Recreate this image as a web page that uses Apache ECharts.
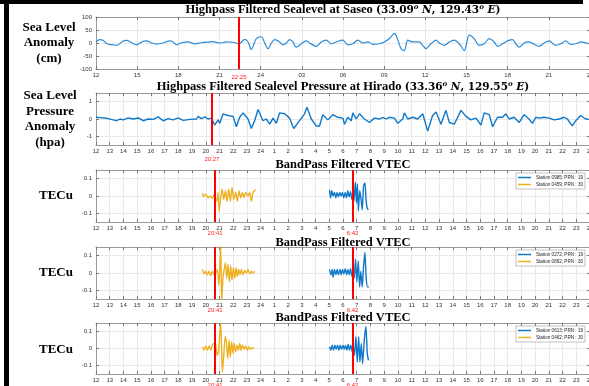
<!DOCTYPE html>
<html>
<head>
<meta charset="utf-8">
<script src="https://cdn.jsdelivr.net/npm/echarts@6/dist/echarts.min.js"></script>
<style>
html, body { margin: 0; padding: 0; background: #fff; }
#main { width: 589px; height: 386px; }
</style>
</head>
<body>
<div id="main"></div>
<script>
// all times are hours counted from 12:00 of the first day
var seaHours = [0,0.29,0.53,0.78,1.26,1.5,1.99,2.23,2.59,2.96,3.32,3.68,4.05,4.41,4.9,5.38,5.62,5.87,6.23,6.72,
	7.2,7.68,8.05,8.53,9.02,9.5,9.99,10.42,10.84,11.08,11.32,11.68,12.05,12.29,12.53,12.78,13.02,13.38,13.62,13.87,
	14.11,14.35,14.59,14.96,15.32,15.56,16.05,16.41,16.78,17.14,17.5,17.99,18.35,18.72,19.08,19.44,19.81,20.17,20.66,21.02,
	21.38,21.75,21.99,22.23,22.47,22.72,23.08,23.56,23.81,24.05,24.41,24.78,25.02,25.38,25.75,26.11,26.47,26.84,27.2,27.56,
	27.93,28.29,28.66,29.02,29.26,29.63,29.99,30.35,30.6,30.84,31.2,31.56,31.93,32.29,32.65,33.02,33.5,33.87,34.23,34.59,
	34.96,35.32,35.86];
var seaCm = [4,13,10,-3,-7,-9,8,10,1,-7,4,8,0,-4,0,8,4,-7,1,4,
	-3,1,3,5,0,4,3,-3,14,4,-25,17,24,0,-22,0,13,4,-7,0,
	13,4,-16,-3,8,0,-13,4,11,-3,4,11,-7,-3,11,0,4,-5,-3,4,
	17,37,13,-22,-29,11,4,4,-9,-22,-3,11,0,-9,4,11,-3,-29,30,17,
	-9,-3,17,4,-13,-3,8,13,-3,-16,0,4,-5,-13,0,8,-9,-3,8,-5,
	-3,4,-3];

var presHours = [0,0.29,0.78,1.26,1.5,1.75,1.99,2.35,2.72,3.08,3.44,3.81,4.17,4.53,4.9,5.26,5.62,5.99,6.35,6.84,
	7.32,7.44,7.68,7.93,8.17,8.41,8.65,8.9,9.02,9.26,9.62,9.99,10.23,10.47,10.72,11.08,11.32,11.56,11.81,12.17,
	12.41,12.66,12.9,13.14,13.38,13.75,14.11,14.41,14.78,15.2,15.37,15.69,16.05,16.29,16.53,16.9,17.26,17.62,17.99,18.11,
	18.35,18.6,18.72,18.96,19.2,19.56,19.93,20.29,20.66,20.9,21.14,21.38,21.75,21.99,22.35,22.47,22.72,23.08,23.44,23.81,
	24.17,24.53,24.78,25.14,25.5,25.75,26.11,26.6,26.96,27.32,27.69,28.05,28.29,28.66,28.9,29.26,29.63,29.87,30.11,30.47,
	30.84,31.2,31.56,31.81,32.05,32.29,32.65,33.02,33.38,33.75,34.11,34.35,34.71,34.96,35.32,35.68,35.86];
var presHpa = [0.1,0.08,0.04,-0.05,-0.1,0,-0.05,0.06,0,0.06,-0.1,0,-0.02,0.12,-0.1,0.02,-0.05,0.06,-0.08,-0.02,
	0,0.15,0.02,0.12,0,0.05,-0.35,-0.05,-0.25,0.3,0.2,0.15,-0.45,0.1,0.35,0,-0.55,-0.1,0.55,-0.1,
	0,-0.3,0.05,-0.25,0.35,0.3,0.05,-0.55,-0.15,0.3,0.68,0,-0.4,-0.4,0.25,-0.05,0.25,0.1,0.05,-0.3,
	0.1,-0.1,0.35,0,0.3,0,-0.2,0.05,0,0.1,0,0.1,0.05,-0.25,0,0.35,0,0.1,0,0.3,
	-0.7,0.2,0.4,-0.3,0.5,-0.2,-0.3,0.5,0.15,-0.05,0.05,-0.35,0.35,0.25,-0.45,0.1,0.1,0.3,0,0.1,
	-0.2,0.25,0,-0.25,0.1,0.05,0.1,0.05,-0.05,0,0.1,0,-0.4,-0.1,0.2,0,0];

// VTEC, PRN 30 (orange) and PRN 19 (blue), one pair per panel
var vtec1OrangeHours = [7.76,7.85,7.99,8.17,8.34,8.48,8.61,8.73,8.82,8.9,8.97,9.07,9.19,9.31,9.43,9.55,9.67,9.79,9.91,10.04,
	10.18,10.3,10.42,10.55,10.67,10.79,10.91,11.08,11.2,11.32,11.44,11.56,11.64];
var vtec1Orange = [0.017,-0.005,0.01,-0.01,0,-0.015,0.01,-0.02,-0.03,0.02,-0.09,-0.02,0.04,-0.02,0.03,-0.03,0.04,-0.03,0.05,-0.02,
	0.02,-0.03,0.03,-0.01,0.02,-0.01,0.02,0,0.02,-0.03,0.02,0.03,0.035];
var vtec1BlueHours = [17.02,17.09,17.19,17.28,17.38,17.48,17.57,17.67,17.77,17.87,17.96,18.06,18.16,18.26,18.35,18.45,
	18.55,18.65,18.74,18.8,18.9,18.98,19.05,19.12,19.22,19.32,19.4,19.5,19.6,19.68,19.76,19.85];
var vtec1Blue = [0.035,-0.01,0.03,0,0.02,-0.01,0.02,-0.005,0.02,0,0.02,-0.01,0.02,-0.01,0.03,-0.005,
	0.025,-0.02,0.01,-0.03,0.08,-0.04,0.07,-0.085,0.03,-0.02,-0.08,0.06,0.075,-0.02,-0.07,-0.08];

var vtec2OrangeHours = [7.76,7.88,8.0,8.12,8.24,8.36,8.48,8.61,8.73,8.85,8.95,9.02,9.09,9.16,9.26,9.36,9.43,9.53,9.62,9.72,
	9.82,9.91,10.01,10.11,10.21,10.3,10.4,10.5,10.59,10.72,10.84,10.96,11.08,11.2,11.32,11.44,11.56];
var vtec2Orange = [0.02,-0.005,0.01,-0.01,0.01,-0.015,0.01,-0.01,0,0.02,-0.07,0.03,0.17,-0.17,-0.02,0.03,0.06,-0.03,0.05,-0.05,
	0.04,-0.04,0.03,-0.03,0.03,-0.02,0.02,-0.01,0.02,-0.01,0.015,0,0.02,-0.005,0.01,0,0.01];
var vtec2BlueHours = [17.02,17.12,17.21,17.28,17.38,17.48,17.57,17.67,17.77,17.87,17.96,18.06,18.16,18.26,18.35,18.45,
	18.55,18.65,18.72,18.82,18.91,19.01,19.11,19.21,19.3,19.4,19.5,19.6,19.69,19.79,19.89];
var vtec2Blue = [0.02,-0.01,0.02,-0.025,0.02,-0.01,0.02,-0.01,0.02,-0.01,0.02,-0.005,0.025,-0.01,0.02,-0.01,
	0.025,-0.02,0.01,-0.03,0.08,-0.05,0.07,-0.08,0.01,-0.08,0.04,0.12,-0.03,-0.08,-0.08];

var vtec3OrangeHours = [7.76,7.88,8.0,8.12,8.24,8.36,8.48,8.61,8.73,8.82,8.92,9.02,9.09,9.21,9.31,9.41,9.5,9.6,9.7,9.79,
	9.89,9.99,10.08,10.18,10.28,10.38,10.47,10.57,10.67,10.79,10.91,11.03,11.15,11.27,11.39,11.52];
var vtec3Orange = [0.01,-0.01,0.015,-0.01,0.015,-0.01,0.02,0.03,0.02,-0.04,-0.02,0.09,0.15,-0.14,-0.04,0.07,0.04,-0.06,0.05,-0.05,
	0.04,-0.03,0.03,-0.02,0.02,-0.01,0.03,-0.01,0.02,-0.005,0.015,-0.01,0.01,-0.005,0.005,0];
var vtec3BlueHours = [17.02,17.12,17.21,17.31,17.41,17.5,17.6,17.7,17.79,17.89,17.99,18.09,18.18,18.28,18.38,18.47,
	18.57,18.67,18.74,18.84,18.94,19.04,19.14,19.23,19.33,19.43,19.55,19.67,19.77,19.86];
var vtec3Blue = [0.01,-0.01,0.02,-0.01,0.02,-0.005,0.02,-0.01,0.02,-0.005,0.02,-0.005,0.02,-0.01,0.025,-0.01,
	0.02,-0.02,0.02,-0.04,0.07,-0.08,0.07,-0.08,0.03,-0.09,0.05,0.13,-0.03,-0.07];

var blueStations = ['Station 0985; PRN : 19', 'Station 0272; PRN : 19', 'Station 0613; PRN : 19'];
var orangeStations = ['Station 0459; PRN : 30', 'Station 0892; PRN : 30', 'Station 0462; PRN : 30'];

// event markers (hours from 12:00) and their labels
var seaEvent = 10.42, seaEventLabel = '22:25';
var presEvent = 8.45, presEventLabel = '20:27';
var tecEvents = [8.68, 18.7];
var tecEventLabels = ['20:41', '6:42'];

var tops = [17, 93, 170, 247, 323];
var heights = [52, 52, 52, 52, 51];
var BLUE = '#0f78c8';
var ORANGE = '#EDB120';
var SERIF = 'Liberation Serif';

function zip(h, v) {
	var out = [];
	for (var i = 0; i < h.length; i++) out.push([h[i], v[i]]);
	return out;
}

function hourLabel(v) {
	var h = 12 + v;
	return h <= 24 ? String(h) : String(h - 24);
}

function hourLabel2(v) {
	var h = 12 + v;
	if (h <= 24) return String(h);
	var d = h - 24;
	return d < 10 ? '0' + d : String(d);
}

function redLine(values, labels, dist) {
	var data = [];
	for (var i = 0; i < values.length; i++) {
		data.push({ xAxis: values[i], label: { formatter: labels[i] } });
	}
	return {
		silent : true,
		symbol : 'none',
		animation : false,
		lineStyle : { color : '#ff0000', width : 2, type : 'solid' },
		label : { position : 'start', color : '#ff2020', fontSize : 6, distance : dist, fontFamily : 'Liberation Sans' },
		data : data
	};
}

var grids = [], xAxes = [], yAxes = [];
var yMin = [-100, -1.5, -0.15, -0.15, -0.15];
var yMax = [100, 1.5, 0.15, 0.15, 0.15];
var yTicks = [[-100, -50, 0, 50, 100], [-1, 0, 1], [-0.1, 0, 0.1], [-0.1, 0, 0.1], [-0.1, 0, 0.1]];

for (var i = 0; i < 5; i++) {
	grids.push({ left : 96, width : 494, top : tops[i], height : heights[i], containLabel : false, outerBoundsMode : 'none' });
	var step = i === 0 ? 3 : 1;
	xAxes.push({
		gridIndex : i,
		type : 'value',
		min : 0,
		max : 36,
		interval : step,
		axisLine : { show : true, onZero : false, lineStyle : { color : '#9a9a9a' } },
		axisTick : { inside : true, length : 3, lineStyle : { color : '#777' } },
		axisLabel : {
			fontSize : 6,
			color : '#333',
			margin : 3,
			fontFamily : 'Liberation Sans',
			showMinLabel : true,
			showMaxLabel : true,
			formatter : i === 0 ? hourLabel2 : hourLabel
		},
		splitLine : { show : true, lineStyle : { color : '#e9e9e9' } }
	});
	xAxes.push({
		gridIndex : i,
		type : 'value',
		position : 'top',
		min : 0,
		max : 36,
		interval : step,
		axisLine : { show : true, onZero : false, lineStyle : { color : '#9a9a9a' } },
		axisTick : { inside : true, length : 3, lineStyle : { color : '#777' } },
		axisLabel : { show : false },
		splitLine : { show : false }
	});
	yAxes.push({
		gridIndex : i,
		type : 'value',
		min : yMin[i],
		max : yMax[i],
		axisLine : { show : true, onZero : false, lineStyle : { color : '#9a9a9a' } },
		axisTick : { inside : true, length : 3, lineStyle : { color : '#777' }, customValues : yTicks[i] },
		axisLabel : { fontSize : 6, color : '#333', margin : 4, fontFamily : 'Liberation Sans', customValues : yTicks[i] },
		splitLine : { show : true, lineStyle : { color : '#e9e9e9' } }
	});
	yAxes.push({
		gridIndex : i,
		type : 'value',
		position : 'right',
		min : yMin[i],
		max : yMax[i],
		axisLine : { show : true, onZero : false, lineStyle : { color : '#9a9a9a' } },
		axisTick : { inside : true, length : 3, lineStyle : { color : '#777' }, customValues : yTicks[i] },
		axisLabel : { show : false },
		splitLine : { show : false }
	});
}

var series = [
	{
		name : 'sea',
		type : 'line',
		xAxisIndex : 0,
		yAxisIndex : 0,
		data : zip(seaHours, seaCm),
		showSymbol : false,
		smooth : 0.3,
		lineStyle : { color : '#2a8bd9', width : 1.2 },
		markLine : redLine([seaEvent], [seaEventLabel], 5)
	},
	{
		name : 'pres',
		type : 'line',
		xAxisIndex : 2,
		yAxisIndex : 2,
		data : zip(presHours, presHpa),
		showSymbol : false,
		lineStyle : { color : BLUE, width : 1.4 },
		markLine : redLine([presEvent], [presEventLabel], 11)
	}
];

var tecBlue = [zip(vtec1BlueHours, vtec1Blue), zip(vtec2BlueHours, vtec2Blue), zip(vtec3BlueHours, vtec3Blue)];
var tecOrange = [zip(vtec1OrangeHours, vtec1Orange), zip(vtec2OrangeHours, vtec2Orange), zip(vtec3OrangeHours, vtec3Orange)];
var legends = [];

for (var k = 0; k < 3; k++) {
	var g = k + 2;
	series.push({
		name : blueStations[k],
		type : 'line',
		xAxisIndex : g * 2,
		yAxisIndex : g * 2,
		data : tecBlue[k],
		showSymbol : false,
		smooth : 0.2,
		color : BLUE,
		lineStyle : { color : BLUE, width : 1.4 },
		markLine : redLine(tecEvents, tecEventLabels, 8),
		z : 2
	});
	series.push({
		name : orangeStations[k],
		type : 'line',
		xAxisIndex : g * 2,
		yAxisIndex : g * 2,
		data : tecOrange[k],
		showSymbol : false,
		smooth : 0.2,
		color : ORANGE,
		lineStyle : { color : ORANGE, width : 1.4 },
		z : 3
	});
	legends.push({
		left : 516,
		top : tops[g] + 3,
		orient : 'vertical',
		data : [blueStations[k], orangeStations[k]],
		icon : 'rect',
		itemWidth : 13,
		itemHeight : 1.5,
		itemGap : 2,
		padding : [2, 2, 2, 2],
		borderColor : '#999',
		borderWidth : 0.6,
		backgroundColor : '#fff',
		textStyle : { fontSize : 4.6, color : '#222', fontFamily : 'Liberation Sans' }
	});
}

var titleRich = {
	b : { fontFamily : SERIF, fontWeight : 'bold', fontSize : 12.5, fill : '#000' },
	m : { fontFamily : 'DejaVu Serif', fontWeight : 'bold', fontSize : 10.5, fill : '#000' },
	mi : { fontFamily : 'DejaVu Serif', fontWeight : 'bold', fontStyle : 'italic', fontSize : 10.5, fill : '#000' },
	s : { fontFamily : 'DejaVu Serif', fontWeight : 'bold', fontStyle : 'italic', fontSize : 7, fill : '#000', verticalAlign : 'top' }
};

function titleText(y, text) {
	return {
		type : 'text',
		x : 343,
		y : y,
		z : 10,
		style : { text : text, rich : titleRich, align : 'center', verticalAlign : 'middle' }
	};
}

function sideText(x, y, text) {
	return {
		type : 'text',
		x : x,
		y : y,
		z : 10,
		style : {
			text : text,
			font : 'bold 13px "Liberation Serif"',
			fill : '#000',
			align : 'center',
			verticalAlign : 'middle',
			lineHeight : 15.5
		}
	};
}

var graphics = [
	{ type : 'rect', shape : { x : 0, y : 0, width : 583, height : 4 }, style : { fill : '#000' }, z : 20 },
	{ type : 'rect', shape : { x : 4, y : 0, width : 5, height : 386 }, style : { fill : '#000' }, z : 20 },
	titleText(10, '{b|Highpass Filtered Sealevel at Saseo }{m|(33.09}{s|o}{mi| N}{m|, 129.43}{s|o}{mi| E}{m|)}'),
	titleText(87, '{b|Highpass Filtered Sealevel Pressure at Hirado }{m|(33.36}{s|o}{mi| N}{m|, 129.55}{s|o}{mi| E}{m|)}'),
	titleText(165, '{b|BandPass Filtered VTEC}'),
	titleText(243, '{b|BandPass Filtered VTEC}'),
	titleText(318, '{b|BandPass Filtered VTEC}'),
	sideText(49, 43, 'Sea Level\nAnomaly\n(cm)'),
	sideText(50, 119, 'Sea Level\nPressure\nAnomaly\n(hpa)'),
	sideText(56, 196, 'TECu'),
	sideText(56, 273, 'TECu'),
	sideText(56, 350, 'TECu')
];

var option = {
	animation : false,
	backgroundColor : '#fff',
	grid : grids,
	xAxis : xAxes,
	yAxis : yAxes,
	legend : legends,
	series : series,
	graphic : graphics
};

var chart = echarts.init(document.getElementById('main'), null, { renderer : 'canvas' });
chart.setOption(option);
</script>
</body>
</html>
